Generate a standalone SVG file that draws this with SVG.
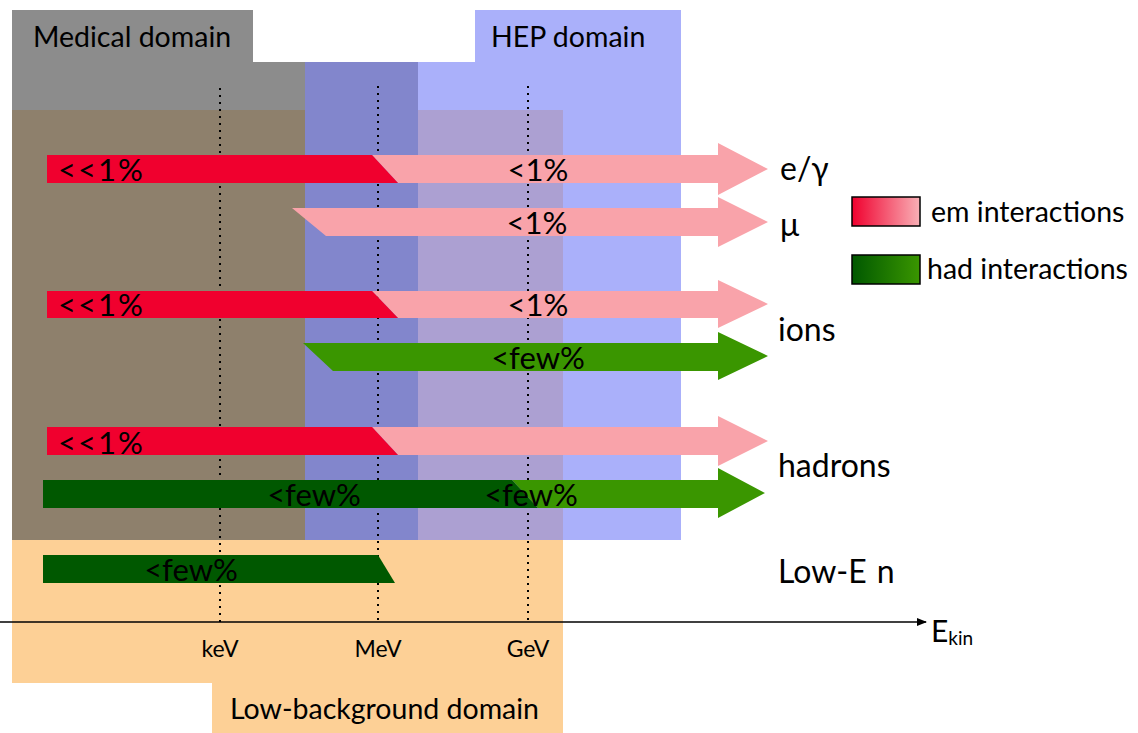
<svg xmlns="http://www.w3.org/2000/svg" width="1138" height="733" viewBox="0 0 1138 733">
<style>
.t{font-family:Lato,"Liberation Sans",sans-serif;fill:#000}
.dom{font-size:28.5px}
.pct{font-size:31px}
.ll{letter-spacing:2px}
.lab{font-size:32px}
.leg{font-size:28.5px}
.unit{font-size:23px}
.dot{stroke:#000;stroke-width:2;stroke-dasharray:2 5;fill:none}
.red{fill:#f0002e}
.pink{fill:#f9a3aa}
.lg{fill:#3a9600}
.dg{fill:#005800}
</style>
<defs>
<linearGradient id="gem" x1="0" x2="1" y1="0" y2="0"><stop offset="0" stop-color="#f0002e"/><stop offset="1" stop-color="#f9b0b6"/></linearGradient>
<linearGradient id="ghad" x1="0" x2="1" y1="0" y2="0"><stop offset="0" stop-color="#005800"/><stop offset="1" stop-color="#3a9600"/></linearGradient>
<marker id="ah" viewBox="0 0 10 10" refX="9" refY="5" markerWidth="10" markerHeight="10" markerUnits="userSpaceOnUse" orient="auto"><path d="M0,1 L10,5 L0,9 Z" fill="#000"/></marker>
</defs>
<rect width="1138" height="733" fill="#fff"/>
<g id="domains">
<rect x="12" y="10" width="241" height="52" fill="#8c8c8c"/>
<rect x="12" y="62" width="293" height="48" fill="#8c8c8c"/>
<rect x="475" y="10" width="206" height="52" fill="#aab0fa"/>
<rect x="418" y="62" width="263" height="48" fill="#aab0fa"/>
<rect x="563" y="110" width="118" height="430" fill="#aab0fa"/>
<rect x="305" y="62" width="113" height="478" fill="#8286cc"/>
<rect x="12" y="110" width="293" height="430" fill="#8e806c"/>
<rect x="418" y="110" width="145" height="430" fill="#aca0d2"/>
<rect x="12" y="540" width="551" height="143" fill="#fdd096"/>
<rect x="212" y="683" width="351" height="50" fill="#fdd096"/>
<text class="t dom" x="33" y="47">Medical domain</text>
<text class="t dom" x="491" y="47">HEP domain</text>
<text class="t dom" x="230" y="719">Low-background domain</text>
</g>
<g id="gridlines">
<line class="dot" x1="220" y1="88" x2="220" y2="622"/>
<line class="dot" x1="378" y1="86" x2="378" y2="622"/>
<line class="dot" x1="528" y1="86" x2="528" y2="622"/>
</g>
<g id="connectors">
<line x1="0" y1="622" x2="926" y2="622" stroke="#000" stroke-width="1.6" marker-end="url(#ah)"/>
</g>
<g id="axis-labels">
<text class="t unit" x="220" y="657" text-anchor="middle">keV</text>
<text class="t unit" x="378" y="657" text-anchor="middle">MeV</text>
<text class="t unit" x="528" y="657" text-anchor="middle">GeV</text>
<text class="t" x="931" y="642" font-size="30">E<tspan font-size="19" dy="3">kin</tspan></text>
</g>
<g id="egamma">
<polygon class="pink" points="372,155 718,155 718,143 768,169 718,195 718,183 398,183"/>
<polygon class="red" points="47,155 372,155 398,183 47,183"/>
<text class="t pct ll" x="58" y="181">&lt;&lt;1%</text>
<text class="t pct" x="538" y="181" text-anchor="middle">&lt;1%</text>
<text class="t lab" x="780" y="180">e/γ</text>
</g>
<g id="muon">
<polygon class="pink" points="292,208 718,208 718,197 768,222 718,247 718,236 326,236"/>
<text class="t pct" x="537" y="234" text-anchor="middle">&lt;1%</text>
<text class="t lab" x="780" y="236">μ</text>
</g>
<g id="ions-em">
<polygon class="pink" points="372,291 718,291 718,280 768,304 718,328 718,318 398,318"/>
<polygon class="red" points="47,291 372,291 398,318 47,318"/>
<text class="t pct ll" x="58" y="316">&lt;&lt;1%</text>
<text class="t pct" x="538" y="316" text-anchor="middle">&lt;1%</text>
</g>
<g id="ions-had">
<polygon class="lg" points="303,343 718,343 718,332 768,356 718,380 718,371 333,371"/>
<text class="t pct" x="538" y="369" text-anchor="middle">&lt;few%</text>
<text class="t lab" x="778" y="341">ions</text>
</g>
<g id="hadrons-em">
<polygon class="pink" points="372,427 718,427 718,416 768,441 718,466 718,455 398,455"/>
<polygon class="red" points="47,427 372,427 398,455 47,455"/>
<text class="t pct ll" x="58" y="454">&lt;&lt;1%</text>
</g>
<g id="hadrons-had">
<polygon class="lg" points="512,480 718,480 718,468 765,493 718,518 718,508 538,508"/>
<polygon class="dg" points="43,480 512,480 538,508 43,508"/>
<text class="t pct" x="314" y="506" text-anchor="middle">&lt;few%</text>
<text class="t pct" x="531" y="506" text-anchor="middle">&lt;few%</text>
<text class="t lab" x="778" y="477">hadrons</text>
</g>
<g id="lowen">
<polygon class="dg" points="43,555 378,555 395,583 43,583"/>
<text class="t pct" x="191" y="581" text-anchor="middle">&lt;few%</text>
<text class="t lab" x="778" y="583" font-size="34" word-spacing="2">Low-E n</text>
</g>
<g id="legend-em">
<rect x="852" y="197" width="68" height="29" fill="url(#gem)" stroke="#000" stroke-width="1.5"/>
<text class="t leg" x="931" y="222">em interactions</text>
</g>
<g id="legend-had">
<rect x="852" y="255" width="68" height="29" fill="url(#ghad)" stroke="#000" stroke-width="1.5"/>
<text class="t leg" x="927" y="279">had interactions</text>
</g>
</svg>
